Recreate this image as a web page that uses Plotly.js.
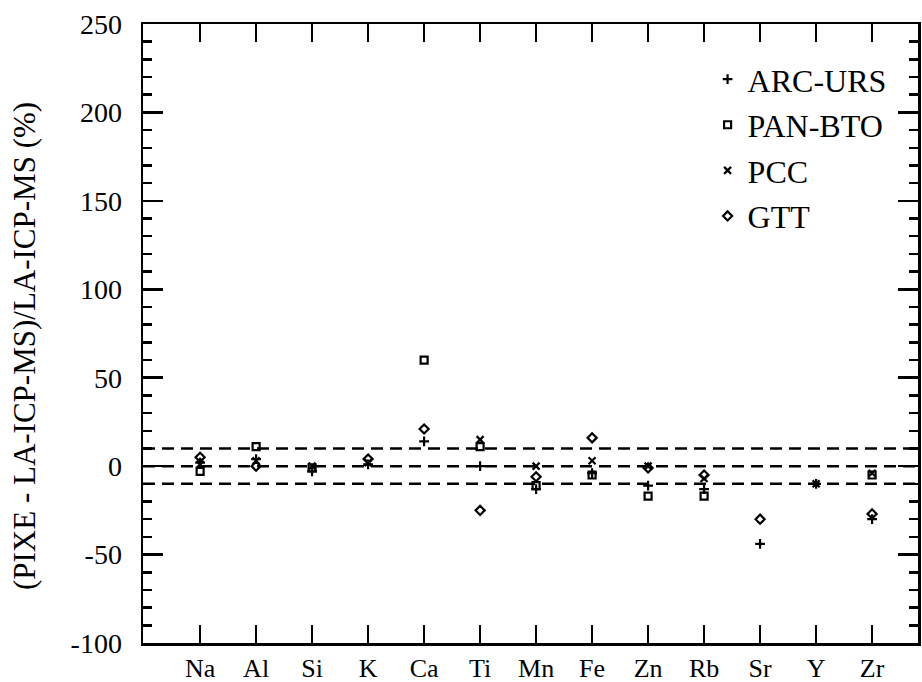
<!DOCTYPE html>
<html>
<head>
<meta charset="utf-8">
<script src="https://cdn.plot.ly/plotly-3.0.1.min.js"></script>
<style>html,body{margin:0;padding:0;background:#fff;}#chart{width:922px;height:682px;}</style>
</head>
<body>
<div id="chart"></div>
<script>
const elements = ['Na','Al','Si','K','Ca','Ti','Mn','Fe','Zn','Rb','Sr','Y','Zr'];
const arcUrs = [2, 4, -3, 1, 14, 0, -13, -4, -11, -13, -44, -10, -30];
const panBto = [-3, 11, -1, null, 60, 11, -11, -5, -17, -17, null, null, -5];
const pcc    = [1, 3, 0, 2, null, 15, 0, 3, 0, -7, null, -10, -4];
const gtt    = [5, 0, null, 4, 21, -25, -6, 16, -1, -5, -30, null, -27];
const refLines = [10, 0, -10];
const yTickVals = [-100, -50, 0, 50, 100, 150, 200, 250];
const yTickText = ['-100', '-50', '0', '50', '100', '150', '200', '250'];
const yTitle = '(PIXE - LA-ICP-MS)/LA-ICP-MS (%)';

const FONT = 'Liberation Serif';
function tr(name, y, symbol, group){
  return {
    type:'scatter', mode:'markers', name:name, x:elements, y:y,
    legendgroup:group,
    marker:{symbol:symbol, size:7, color:'#000', line:{color:'#000', width:2.2}},
    cliponaxis:false
  };
}
const data = [
  tr('ARC-URS', arcUrs, 'cross-thin', 'a'),
  tr('PAN-BTO', panBto, 'square-open', 'b'),
  tr('PCC', pcc, 'x-thin', 'c'),
  tr('GTT', gtt, 'diamond-open', 'd')
];
const shapes = refLines.map(v => ({
  type:'line', xref:'paper', yref:'y', x0:0, x1:1, y0:v, y1:v,
  line:{color:'#000', width:2.5, dash:'12px,7px'}
}));
const layout = {
  width:922, height:682,
  margin:{l:143, r:4, t:24, b:39},
  paper_bgcolor:'#fff', plot_bgcolor:'#fff',
  font:{family:FONT, size:28, color:'#000'},
  showlegend:true,
  legend:{x:0.7285, y:0.955, xanchor:'left', yanchor:'top', bgcolor:'rgba(0,0,0,0)',
          font:{family:FONT, size:32}, tracegroupgap:1, itemwidth:30},
  xaxis:{
    type:'category', range:[-1.02, 12.82],
    showgrid:false, zeroline:false, showline:true, linecolor:'#000', linewidth:2.5,
    mirror:'ticks', ticks:'inside', ticklen:18, tickwidth:2.5, tickcolor:'#000',
    tickfont:{family:FONT, size:26}
  },
  yaxis:{
    range:[-100, 250], tickvals:yTickVals, ticktext:yTickText,
    showgrid:false, zeroline:false, showline:true, linecolor:'#000', linewidth:2.5,
    mirror:'ticks', ticks:'inside', ticklen:20, tickwidth:2.5, tickcolor:'#000',
    ticklabelstandoff:13,
    minor:{dtick:10, ticks:'inside', ticklen:9, tickwidth:2.5, tickcolor:'#000', showgrid:false},
    tickfont:{family:FONT, size:28}
  },
  annotations:[{
    text:yTitle, xref:'paper', yref:'paper', x:-0.152, y:0.48,
    xanchor:'center', yanchor:'middle', textangle:-90, showarrow:false,
    font:{family:FONT, size:31, color:'#000'}
  }],
  shapes:shapes
};
Plotly.newPlot('chart', data, layout, {displayModeBar:false, staticPlot:true});
</script>
</body>
</html>
